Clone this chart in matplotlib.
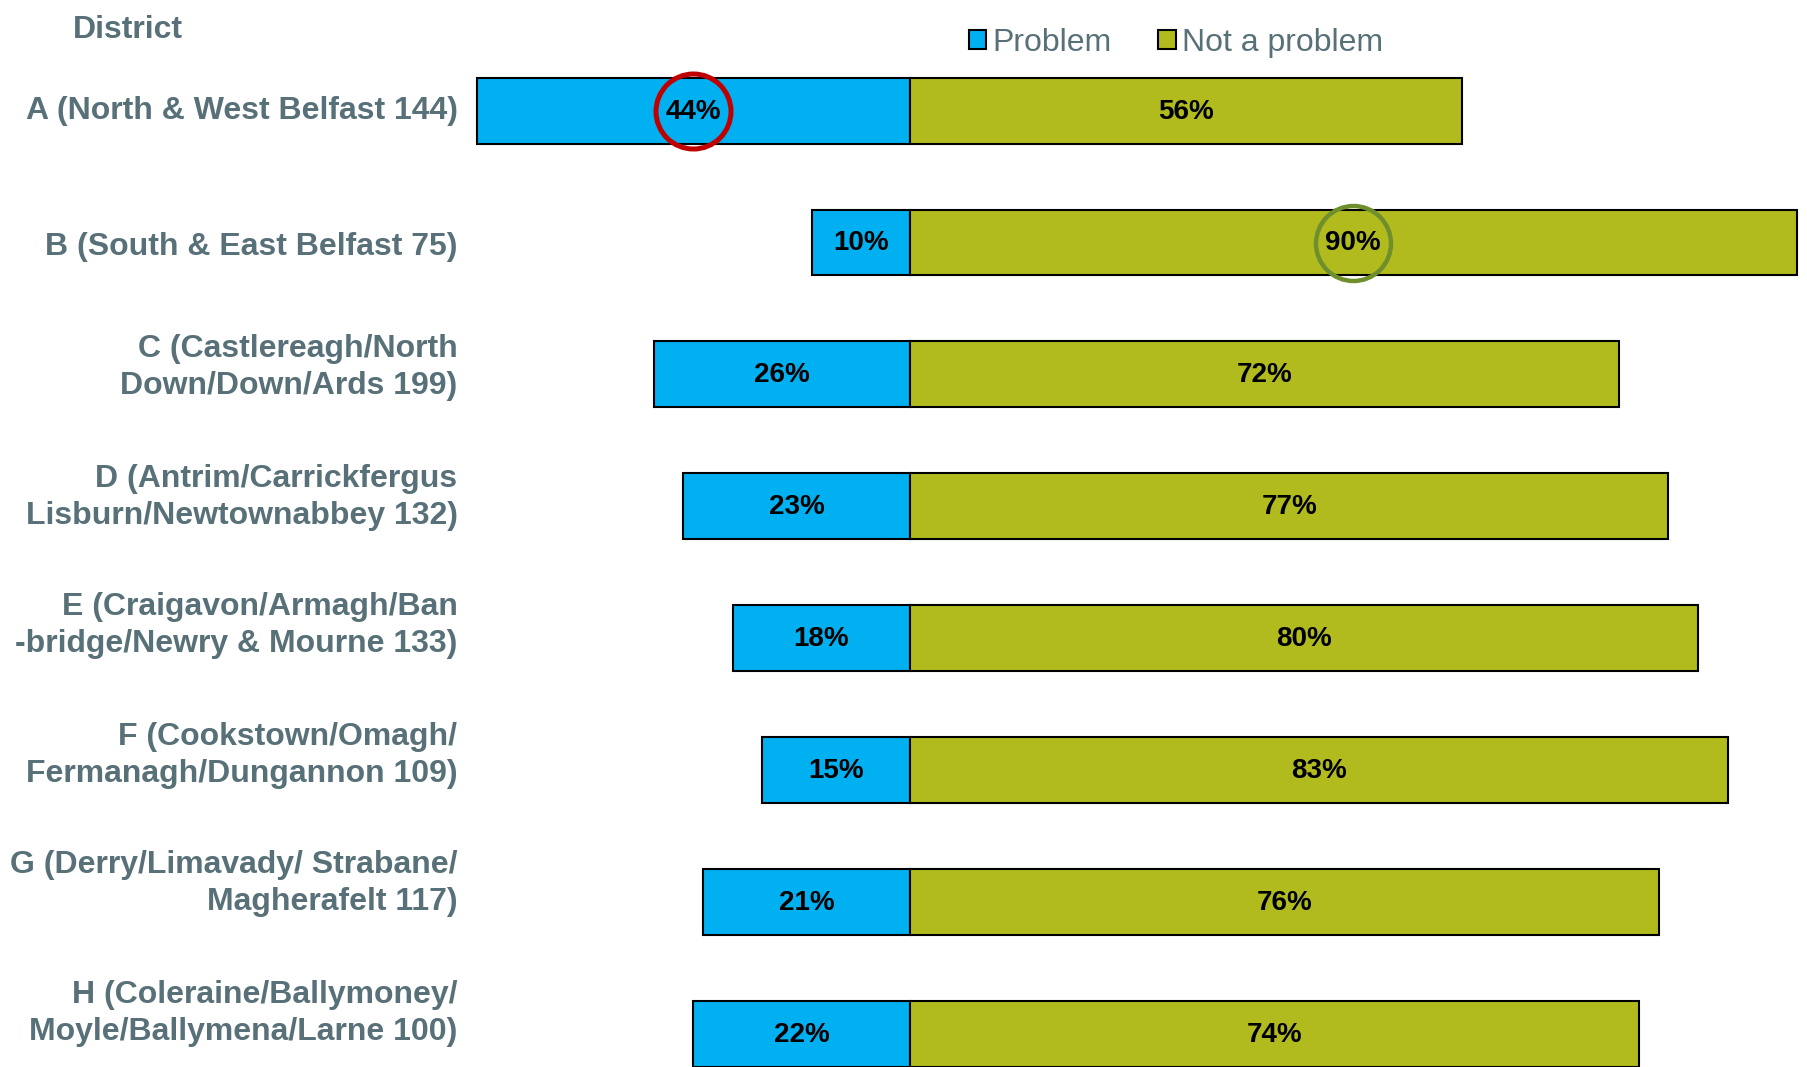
import matplotlib
matplotlib.use("Agg")
import matplotlib.pyplot as plt

districts = [
    "A (North & West Belfast 144)",
    "B (South & East Belfast 75)",
    "C (Castlereagh/North\nDown/Down/Ards 199)",
    "D (Antrim/Carrickfergus\nLisburn/Newtownabbey 132)",
    "E (Craigavon/Armagh/Ban\n-bridge/Newry & Mourne 133)",
    "F (Cookstown/Omagh/\nFermanagh/Dungannon 109)",
    "G (Derry/Limavady/ Strabane/\nMagherafelt 117)",
    "H (Coleraine/Ballymoney/\nMoyle/Ballymena/Larne 100)",
]
problem = [44, 10, 26, 23, 18, 15, 21, 22]
not_problem = [56, 90, 72, 77, 80, 83, 76, 74]
series_names = ["Problem", "Not a problem"]

BLUE = "#00B0F0"
OLIVE = "#B2BB1E"
TXT = "#587078"

plt.rcParams['font.family'] = ['Liberation Sans', 'DejaVu Sans']

W, H = 1807, 1067
fig = plt.figure(figsize=(W / 100, H / 100), dpi=100)
ax_l, ax_r = 470, 1800
ax_t, ax_b = 40, 1067
ax = fig.add_axes([ax_l / W, 1 - ax_b / H, (ax_r - ax_l) / W, (ax_b - ax_t) / H])

ppp = 9.85  # px per percent
zero = 910
ax.set_xlim((ax_l - zero) / ppp, (ax_r - zero) / ppp)
y0, dy = 110.6, 131.9
ax.set_ylim((ax_b - y0) / dy, (ax_t - y0) / dy)

ys = list(range(len(districts)))
neg = [-p for p in problem]
ax.barh(ys, neg, height=0.5, color=BLUE, edgecolor="black", linewidth=1.5, label=series_names[0])
ax.barh(ys, not_problem, height=0.5, color=OLIVE, edgecolor="black", linewidth=1.5, label=series_names[1])

for y, p, n in zip(ys, problem, not_problem):
    ax.annotate(f"{p}%", xy=(-p / 2, y), xytext=(0, -0.7), textcoords="offset points",
                ha="center", va="center", fontsize=20, fontweight="bold", color="black")
    ax.annotate(f"{n}%", xy=(n / 2, y), xytext=(0, -0.7), textcoords="offset points",
                ha="center", va="center", fontsize=20, fontweight="bold", color="black")

# highlight circles
ax.plot([-problem[0] / 2], [0], marker="o", markersize=54, markerfacecolor="none",
        markeredgecolor="#C00000", markeredgewidth=3.6, clip_on=False)
ax.plot([not_problem[1] / 2], [1], marker="o", markersize=54, markerfacecolor="none",
        markeredgecolor="#6F8F2C", markeredgewidth=3.2, clip_on=False)

ax.set_yticks([])
ax.set_xticks([])
for s in ax.spines.values():
    s.set_visible(False)

# category labels: laid out in their own column (offset in points, up = positive)
label_offsets = [0.0, -3.4, 4.9, 6.6, 9.1, 10.7, 13.2, 14.9]
blend = ax.get_yaxis_transform()
for y, lab, off in zip(ys, districts, label_offsets):
    ax.annotate(lab, xy=(0, y), xycoords=blend, xytext=(-9, off), textcoords="offset points",
                ha="right", va="center", fontsize=23, fontweight="bold", color=TXT,
                linespacing=1.3, multialignment="right", annotation_clip=False)

fig.text(73 / W, 1 - 30 / H, "District", fontsize=23, fontweight="bold", color=TXT,
         ha="left", va="center")

leg = ax.legend(loc="center", ncol=2, frameon=False, fontsize=23,
                handlelength=0.55, handleheight=0.55, handletextpad=0.2, columnspacing=1.45,
                labelcolor=TXT)
leg.set_bbox_to_anchor((1176 / W, 1 - 43 / H), transform=fig.transFigure)

fig.savefig("out.png", dpi=100)
